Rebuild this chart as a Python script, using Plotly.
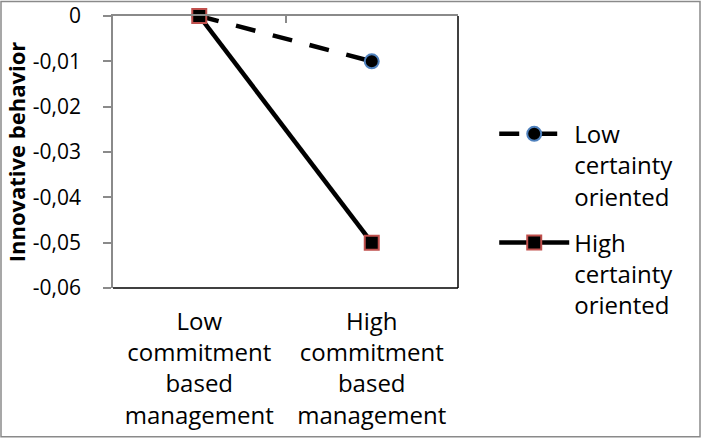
import plotly.graph_objects as go

# Interaction plot: innovative behavior by management style and certainty orientation
categories = ["Low<br>commitment<br>based<br>management", "High<br>commitment<br>based<br>management"]
low_certainty = [0.0, -0.01]
high_certainty = [0.0, -0.05]
y_ticks = [0, -0.01, -0.02, -0.03, -0.04, -0.05, -0.06]
y_tick_text = ["0", "-0,01", "-0,02", "-0,03", "-0,04", "-0,05", "-0,06"]

FONT = "'Open Sans', sans-serif"
FS = 24
GREY = "#8a8a8a"

fig = go.Figure()
fig.add_trace(go.Scatter(
    x=[0, 1], y=low_certainty, mode="lines+markers", cliponaxis=False,
    name="Low<br>certainty<br>oriented", legendgroup="low",
    line=dict(color="black", width=4.5, dash="20px,18px"),
    marker=dict(symbol="circle", size=14, color="black",
                line=dict(color="#4F81BD", width=2)),
))
fig.add_trace(go.Scatter(
    x=[0, 1], y=high_certainty, mode="lines+markers", cliponaxis=False,
    name="High<br>certainty<br>oriented", legendgroup="high",
    line=dict(color="black", width=4.5),
    marker=dict(symbol="square", size=14, color="black",
                line=dict(color="#C0504D", width=2)),
))

L, R, T, B = 113, 246, 15.5, 150
W, H = 704, 438
pw, ph = W - L - R, H - T - B

# outer chart border
fig.add_shape(type="rect", xref="paper", yref="paper",
              x0=(1 - L) / pw, x1=(W - 4 - L) / pw,
              y0=-(B - 1) / ph, y1=1 + (T - 1) / ph,
              line=dict(color=GREY, width=1.5), layer="below")
# plot-area frame: right and bottom edges
fig.add_shape(type="line", xref="paper", yref="paper", x0=1, x1=1, y0=0, y1=1,
              line=dict(color="black", width=1.5), layer="below")
fig.add_shape(type="line", xref="paper", yref="paper", x0=0, x1=1, y0=0, y1=0,
              line=dict(color="black", width=1.5), layer="below")

fig.update_layout(
    width=W, height=H,
    margin=dict(l=L, r=R, t=T, b=B, autoexpand=False),
    paper_bgcolor="white", plot_bgcolor="white",
    separators=",.",
    font=dict(family=FONT, size=FS, color="black"),
    showlegend=True,
    legend=dict(x=1.105, y=0.648, xanchor="left", yanchor="top",
                font=dict(size=FS, family=FONT), itemwidth=70,
                valign="top", tracegroupgap=12, bgcolor="rgba(0,0,0,0)"),
    xaxis=dict(range=[-0.5, 1.5], tickmode="array", tickvals=[0, 1],
               ticktext=categories, showgrid=False, zeroline=False,
               showline=False, ticks="", tickfont=dict(size=FS, family=FONT),
               ticklabelstandoff=17, automargin=False, fixedrange=True),
    # category axis crossing at zero (top edge), with divider ticks
    xaxis2=dict(range=[-0.5, 1.5], overlaying="x", side="top",
                tickmode="array", tickvals=[-0.5, 0.5, 1.5], showticklabels=False,
                showgrid=False, zeroline=False, showline=True, linecolor=GREY,
                linewidth=1.5, ticks="inside", ticklen=7, tickcolor=GREY,
                tickwidth=1.5, automargin=False, fixedrange=True),
    yaxis=dict(range=[-0.06, 0], tickmode="array", tickvals=y_ticks,
               ticktext=y_tick_text, showgrid=False, zeroline=False,
               showline=True, linecolor=GREY, linewidth=1.5,
               ticks="outside", ticklen=8, tickcolor=GREY, tickwidth=1.5,
               tickfont=dict(size=21, family=FONT), ticklabelstandoff=18,
               ticklabeloverflow="allow", automargin=False,
               title=dict(text="<b>Innovative behavior</b>", standoff=1,
                          font=dict(size=22, family=FONT)),
               fixedrange=True),
)
# empty trace that activates the top axis
fig.add_trace(go.Scatter(x=[0, 1], y=[None, None], xaxis="x2",
                         showlegend=False, hoverinfo="skip"))

fig.write_html("out.html")
